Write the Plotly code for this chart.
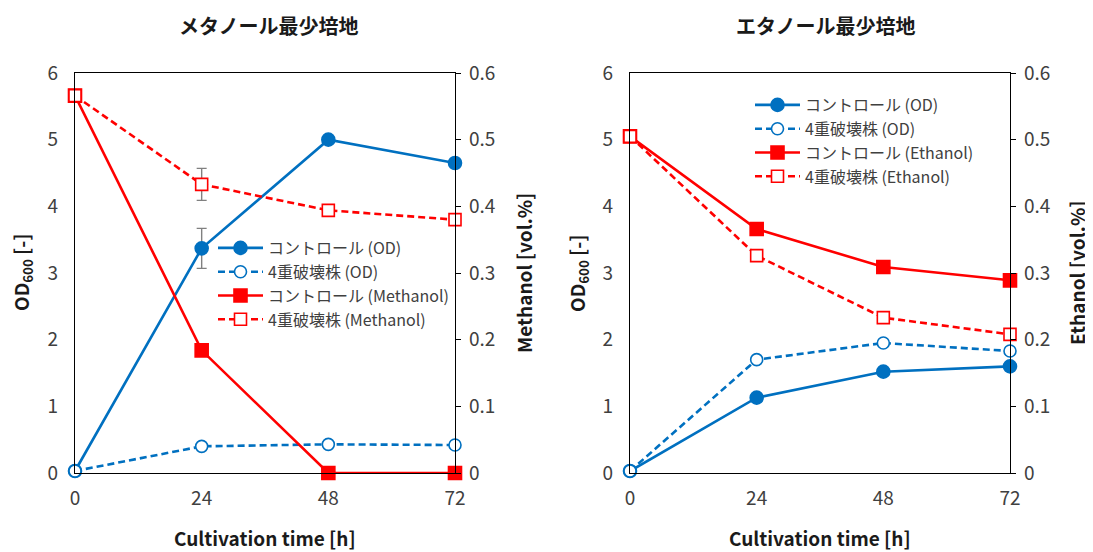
import plotly.graph_objects as go
from plotly.subplots import make_subplots

time_h = [0, 24, 48, 72]
x_ticks = [0, 24, 48, 72]

# Methanol medium
meoh_ctrl_od = [0.03, 3.37, 5.0, 4.65]
meoh_ctrl_od_err = [0, 0.30, 0, 0]
meoh_ko_od = [0.03, 0.40, 0.43, 0.42]
meoh_ko_od_err = [0, 0, 0, 0]
meoh_ctrl_meoh = [0.566, 0.184, 0.0, 0.0]
meoh_ctrl_meoh_err = [0, 0.006, 0, 0]
meoh_ko_meoh = [0.566, 0.433, 0.394, 0.380]
meoh_ko_meoh_err = [0, 0.024, 0, 0]

# Ethanol medium
etoh_ctrl_od = [0.03, 1.13, 1.52, 1.60]
etoh_ctrl_od_err = [0, 0, 0, 0]
etoh_ko_od = [0.03, 1.70, 1.95, 1.83]
etoh_ko_od_err = [0, 0, 0.03, 0]
etoh_ctrl_etoh = [0.505, 0.366, 0.309, 0.289]
etoh_ctrl_etoh_err = [0, 0, 0, 0]
etoh_ko_etoh = [0.505, 0.326, 0.233, 0.208]
etoh_ko_etoh_err = [0, 0, 0.007, 0]

titles = ["メタノール最少培地", "エタノール最少培地"]
names_left = ["コントロール (OD)", "4重破壊株 (OD)", "コントロール (Methanol)", "4重破壊株 (Methanol)"]
names_right = ["コントロール (OD)", "4重破壊株 (OD)", "コントロール (Ethanol)", "4重破壊株 (Ethanol)"]

BLUE = "#0070C0"
RED = "#FF0000"
GREY = "#808080"
TXT = "#404040"
FONT = "Noto Sans CJK JP"

fig = make_subplots(rows=1, cols=2, specs=[[{"secondary_y": True}, {"secondary_y": True}]])


def add(col, y, err, name, color, filled, dashed, symbol, secondary, legend):
    marker = dict(symbol=symbol, size=13 if filled else 12,
                  color=color if filled else "white",
                  line=dict(color=color, width=1.6))
    fig.add_trace(go.Scatter(
        x=time_h, y=y, name=name, mode="lines+markers",
        line=dict(color=color, width=2.6, dash="7px,4px" if dashed else "solid"),
        marker=marker, cliponaxis=False, legend=legend,
        error_y=dict(type="data", array=err, visible=True, color=GREY, thickness=1.4, width=5),
    ), row=1, col=col, secondary_y=secondary)


add(1, meoh_ctrl_od, meoh_ctrl_od_err, names_left[0], BLUE, True, False, "circle", False, "legend")
add(1, meoh_ko_od, meoh_ko_od_err, names_left[1], BLUE, False, True, "circle", False, "legend")
add(1, meoh_ctrl_meoh, meoh_ctrl_meoh_err, names_left[2], RED, True, False, "square", True, "legend")
add(1, meoh_ko_meoh, meoh_ko_meoh_err, names_left[3], RED, False, True, "square", True, "legend")

add(2, etoh_ctrl_od, etoh_ctrl_od_err, names_right[0], BLUE, True, False, "circle", False, "legend2")
add(2, etoh_ko_od, etoh_ko_od_err, names_right[1], BLUE, False, True, "circle", False, "legend2")
add(2, etoh_ctrl_etoh, etoh_ctrl_etoh_err, names_right[2], RED, True, False, "square", True, "legend2")
add(2, etoh_ko_etoh, etoh_ko_etoh_err, names_right[3], RED, False, True, "square", True, "legend2")

# page body has an 8px margin; figure size and coordinates compensate for it
OFF = 8
W, H = 1093 - OFF, 552 - OFF


def px(x):
    return (x - OFF) / W


def py(y):
    return 1 - (y - OFF) / H


xd1 = [px(75), px(455)]
xd2 = [px(630), px(1010)]
yd = [py(473), py(73)]

tickfont = dict(family=FONT, size=19, color=TXT)
common_x = dict(range=[0, 72], tickvals=x_ticks, showline=True, linecolor="black", linewidth=1.3,
                mirror=True, showgrid=False, zeroline=False, ticks="", tickfont=tickfont,
                automargin=False, ticklabelstandoff=8)
left_y = dict(range=[0, 6], dtick=1, showline=True, linecolor="black", linewidth=1.3,
              showgrid=False, zeroline=False, ticks="", tickfont=tickfont, automargin=False,
              ticklabelstandoff=12)
right_y = dict(range=[0, 0.6], tickvals=[0, 0.1, 0.2, 0.3, 0.4, 0.5, 0.6],
               ticktext=["0", "0.1", "0.2", "0.3", "0.4", "0.5", "0.6"],
               showline=True, linecolor="black", linewidth=1.3, showgrid=False, zeroline=False,
               ticks="outside", ticklen=5, tickcolor="black", tickfont=tickfont, automargin=False,
               ticklabelstandoff=4)

legfont = dict(family=FONT, size=16, color=TXT)
fig.update_layout(
    width=W, height=H, margin=dict(l=0, r=0, t=0, b=0, autoexpand=False),
    paper_bgcolor="white", plot_bgcolor="white",
    font=dict(family=FONT, color=TXT),
    xaxis=dict(domain=xd1, **common_x),
    xaxis2=dict(domain=xd2, **common_x),
    yaxis=dict(domain=yd, **left_y),
    yaxis2=dict(**right_y),
    yaxis3=dict(domain=yd, **left_y),
    yaxis4=dict(**right_y),
    legend=dict(x=px(213), y=py(231), xanchor="left", yanchor="top",
                bgcolor="rgba(0,0,0,0)", font=legfont, tracegroupgap=0, itemwidth=45),
    legend2=dict(x=px(750), y=py(88), xanchor="left", yanchor="top",
                 bgcolor="rgba(0,0,0,0)", font=legfont, tracegroupgap=0, itemwidth=45),
    showlegend=True,
)

ann = []
ttl = dict(family=FONT, size=20, color="#1a1a1a")
axf = dict(family=FONT, size=19, color="#1a1a1a")
for cx, t in [(268, titles[0]), (825, titles[1])]:
    ann.append(dict(text="<b>" + t + "</b>", x=px(cx), y=py(9), xref="paper", yref="paper",
                    showarrow=False, font=ttl, xanchor="center", yanchor="top"))
for cx in [265, 820]:
    ann.append(dict(text="<b>Cultivation time [h]</b>", x=px(cx), y=py(537), xref="paper", yref="paper",
                    showarrow=False, font=axf, xanchor="center", yanchor="middle"))
for cx, t in [(22, "<b>OD<sub>600</sub> [-]</b>"), (524, "<b>Methanol [vol.%]</b>"),
              (578, "<b>OD<sub>600</sub> [-]</b>"), (1077, "<b>Ethanol [vol.%]</b>")]:
    ann.append(dict(text=t, x=px(cx), y=py(273), xref="paper", yref="paper", textangle=-90,
                    showarrow=False, font=axf, xanchor="center", yanchor="middle"))
fig.update_layout(annotations=ann)

fig.write_html("out.html")
